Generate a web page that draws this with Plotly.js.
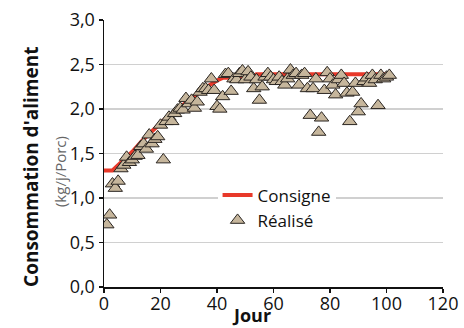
<!DOCTYPE html>
<html>
<head>
<meta charset="utf-8">
<script src="https://cdn.plot.ly/plotly-3.0.1.min.js"></script>
<style>html,body{margin:0;padding:0;background:#fff;}#chart{width:464px;height:328px;}</style>
</head>
<body>
<div id="chart"></div>
<script>
// Consigne (target feed intake)
const consigneJour = [0, 3, 6, 10, 14, 18, 21, 25, 30, 35, 40, 42, 53, 54, 101];
const consigneVal  = [1.31, 1.31, 1.40, 1.52, 1.66, 1.78, 1.87, 1.97, 2.10, 2.22, 2.32, 2.35, 2.35, 2.39, 2.39];

// Réalisé (observed feed intake)
const realiseJour = [1, 2, 3, 4, 5, 6, 7, 8, 9, 10, 11, 12, 13, 14, 15, 16, 17, 18, 19, 20,
  21, 22, 23, 24, 25, 26, 27, 28, 29, 30, 31, 32, 33, 34, 35, 36, 37, 38, 39, 40,
  41, 42, 43, 44, 45, 46, 47, 48, 49, 50, 51, 52, 53, 54, 55, 56, 57, 58, 59, 60,
  61, 62, 63, 64, 65, 66, 67, 68, 69, 70, 71, 72, 73, 74, 75, 76, 77, 78, 79, 80,
  81, 82, 83, 84, 85, 86, 87, 88, 89, 90, 91, 92, 93, 94, 95, 96, 97, 98, 99, 100, 101];
const realiseVal = [0.70, 0.81, 1.16, 1.11, 1.19, 1.33, 1.37, 1.46, 1.40, 1.43, 1.47, 1.48, 1.58, 1.61, 1.55, 1.71, 1.61, 1.66, 1.69, 1.82,
  1.43, 1.86, 1.91, 1.86, 1.95, 1.99, 2.01, 1.99, 2.12, 2.06, 2.10, 2.01, 2.08, 2.19, 2.23, 2.23, 2.21, 2.34, 2.21, 2.03,
  2.00, 2.14, 2.39, 2.40, 2.20, 2.34, 2.33, 2.40, 2.43, 2.33, 2.42, 2.36, 2.23, 2.33, 2.10, 2.25, 2.36, 2.40, 2.36, 2.33,
  2.31, 2.36, 2.31, 2.27, 2.34, 2.44, 2.38, 2.40, 2.27, 2.38, 2.40, 2.23, 1.93, 2.23, 2.34, 1.74, 1.90, 2.21, 2.41, 2.34,
  2.27, 2.16, 2.33, 2.38, 2.29, 2.18, 1.86, 2.19, 2.29, 1.97, 2.06, 2.31, 2.35, 2.29, 2.38, 2.33, 2.04, 2.38, 2.34, 2.36, 2.38];

const xTicks = [0, 20, 40, 60, 80, 100, 120];
const yTicks = [0, 0.5, 1.0, 1.5, 2.0, 2.5, 3.0];

const FONT = '"Open Sans", "DejaVu Sans", sans-serif';

const traces = [
  {
    x: consigneJour, y: consigneVal, type: 'scatter', mode: 'lines', name: 'Consigne',
    line: {color: '#e8392a', width: 4}, hoverinfo: 'skip'
  },
  {
    x: realiseJour, y: realiseVal, type: 'scatter', mode: 'markers', name: 'Réalisé',
    marker: {symbol: 'triangle-up', size: 12.5, color: '#c6b69c', line: {color: '#2a2521', width: 1}}
  }
];

const layout = {
  width: 464, height: 328,
  margin: {l: 104, r: 21, t: 20, b: 41},
  paper_bgcolor: '#fff', plot_bgcolor: '#fff',
  separators: ', ',
  font: {family: FONT, size: 18, color: '#111'},
  showlegend: true,
  legend: {
    x: 0.335, y: 0.41, xanchor: 'left', yanchor: 'top',
    bgcolor: '#fff', borderwidth: 0,
    font: {family: FONT, size: 17, color: '#111'},
    tracegroupgap: 0
  },
  xaxis: {
    range: [0, 120], tickvals: xTicks, ticktext: xTicks.map(String),
    showgrid: false, zeroline: false,
    showline: true, linecolor: '#111', linewidth: 1.5,
    ticks: 'outside', ticklen: 4, tickcolor: '#111', tickwidth: 1.5,
    ticklabelstandoff: -4,
    tickfont: {family: FONT, size: 18, color: '#111'}
  },
  yaxis: {
    range: [0, 3.0], tickvals: yTicks, tickformat: '.1f',
    showgrid: true, gridcolor: '#d0d0d0', gridwidth: 1.5,
    zeroline: false,
    showline: true, linecolor: '#111', linewidth: 1.5,
    ticks: 'outside', ticklen: 4, tickcolor: '#111', tickwidth: 1.5,
    tickfont: {family: FONT, size: 18, color: '#111'}
  },
  annotations: [
    {
      text: '<b>Consommation d\'aliment</b>', xref: 'paper', yref: 'paper',
      x: -0.215, y: 0.45, xanchor: 'center', yanchor: 'middle', textangle: -90,
      showarrow: false, font: {family: FONT, size: 19, color: '#111'}
    },
    {
      text: '(kg/j/Porc)', xref: 'paper', yref: 'paper',
      x: -0.13, y: 0.434, xanchor: 'center', yanchor: 'middle', textangle: -90,
      showarrow: false, font: {family: FONT, size: 15, color: '#666'}
    },
    {
      text: '<b>Jour</b>', xref: 'paper', yref: 'paper',
      x: 0.436, y: -0.1536, xanchor: 'center', yanchor: 'bottom',
      showarrow: false, borderpad: 0, font: {family: FONT, size: 18, color: '#111'}
    }
  ]
};

Plotly.newPlot('chart', traces, layout, {displayModeBar: false, staticPlot: true});
</script>
</body>
</html>
